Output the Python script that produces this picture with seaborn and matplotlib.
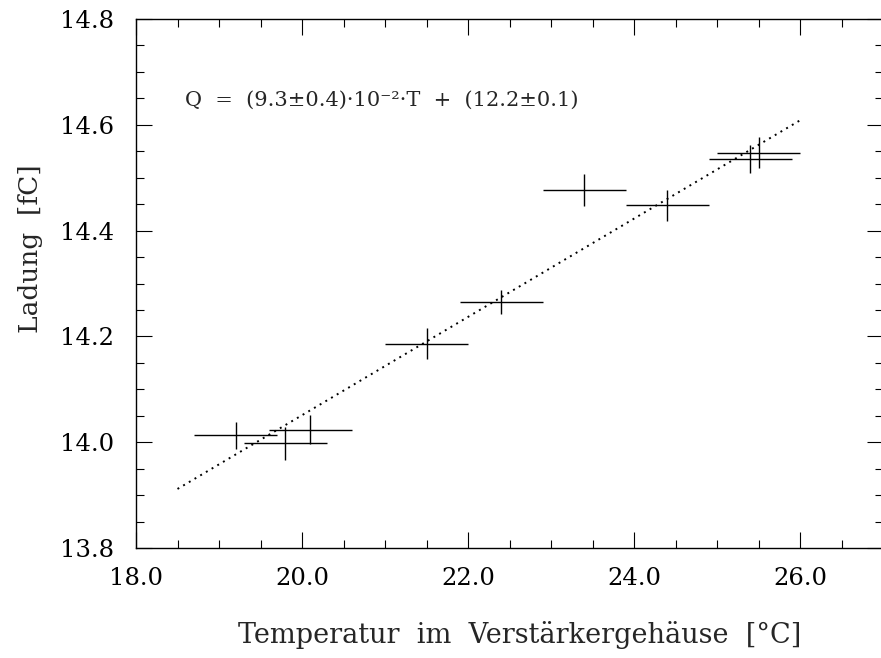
import numpy as np
import pandas as pd
import seaborn as sns
import matplotlib.pyplot as plt
from matplotlib.ticker import MultipleLocator

temperatur = [19.2, 19.8, 20.1, 21.5, 22.4, 23.4, 24.4, 25.4, 25.5]
ladung = [14.013, 13.998, 14.024, 14.186, 14.265, 14.477, 14.448, 14.535, 14.547]
temp_fehler = [0.5, 0.5, 0.5, 0.5, 0.5, 0.5, 0.5, 0.5, 0.5]
ladung_fehler = [0.026, 0.031, 0.028, 0.029, 0.023, 0.03, 0.029, 0.027, 0.029]

# Fitgerade
fit_steigung = 0.0929
fit_achse = 12.193
fit_bereich = [18.5, 26.0]

x_ticks = [18.0, 20.0, 22.0, 24.0, 26.0]
y_ticks = [13.8, 14.0, 14.2, 14.4, 14.6, 14.8]

sns.set_theme(style="ticks")
plt.rcParams['font.family'] = ['DejaVu Serif', 'DejaVu Sans']
plt.rcParams['xtick.direction'] = 'in'
plt.rcParams['ytick.direction'] = 'in'

df = pd.DataFrame({"T": temperatur, "Q": ladung})
fit_x = np.array(fit_bereich)
df_fit = pd.DataFrame({"T": fit_x, "Q": fit_steigung * fit_x + fit_achse})

fig = plt.figure(figsize=(8.81, 6.58), dpi=100)
ax = fig.add_axes([136 / 881, 110 / 658, 747 / 881, 529 / 658])

sns.lineplot(data=df_fit, x="T", y="Q", ax=ax, color="black", lw=1.4,
             linestyle=(0, (1, 2.4)))
ax.errorbar(df["T"], df["Q"], xerr=temp_fehler, yerr=ladung_fehler,
            fmt="none", ecolor="black", elinewidth=1.0, capsize=0)

ax.set_xlim(18, 27)
ax.set_ylim(13.8, 14.8)
ax.set_xticks(x_ticks)
ax.set_yticks(y_ticks)
ax.set_xticklabels([f"{v:.1f}" for v in x_ticks])
ax.set_yticklabels([f"{v:.1f}" for v in y_ticks])
ax.xaxis.set_minor_locator(MultipleLocator(0.5))
ax.yaxis.set_minor_locator(MultipleLocator(0.05))
ax.tick_params(which="both", top=True, right=True, width=0.8, colors="black",
               labelsize=17.5)
ax.tick_params(which="major", length=11.5)
ax.tick_params(which="minor", length=5.8)
ax.tick_params(axis="x", pad=14)
ax.tick_params(axis="y", pad=16)
for s in ax.spines.values():
    s.set_linewidth(1.0)
    s.set_color("black")

ax.set_xlabel("Temperatur  im  Verstärkergehäuse  [°C]", fontsize=19.5)
ax.set_ylabel("Ladung  [fC]", fontsize=19)
ax.xaxis.set_label_coords(0.514, -0.138)
ax.yaxis.set_label_coords(-0.125, 0.565)

ax.text(18.59, 14.647, "Q  =  (9.3±0.4)·10⁻²·T  +  (12.2±0.1)", fontsize=15,
        ha="left", va="center")

fig.savefig("out.png", dpi=100)
